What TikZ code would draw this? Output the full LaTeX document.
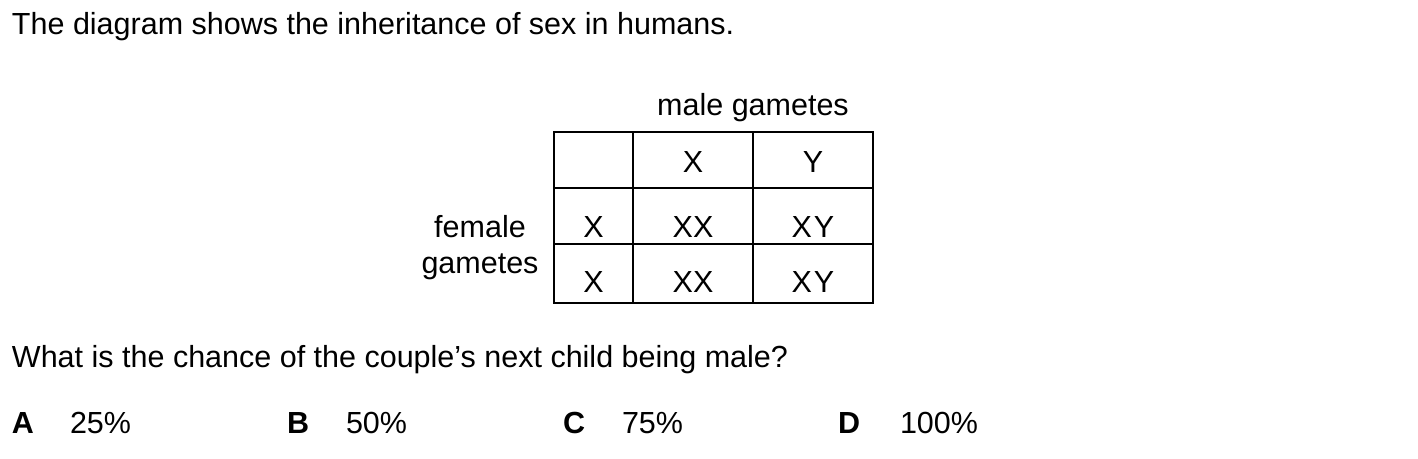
\documentclass[tikz,border=0pt]{standalone}
\usepackage{fontspec}
\setmainfont{Liberation Sans}
\usepackage{tikz}
\tikzset{
	x=1pt, y=-1pt,
	every node/.style={inner sep=0pt, outer sep=0pt},
	txt/.style={anchor=base west},
	cell/.style={anchor=base},
	grid line/.style={line width=2pt}
}

\begin{document}
\begin{tikzpicture}[font=\fontsize{30.5}{36}\selectfont]
\useasboundingbox (0,0) rectangle (1418,458);
\node (title) [txt] at (12,34) {The diagram shows the inheritance of sex in humans.};
\node (male) [cell] at (753,115) {male gametes};
\node (fem) [cell] at (480,237) {female};
\node (fgam) [cell] at (480,273) {gametes};
% table
\coordinate (tl) at (554,132); \coordinate (br) at (873,303);
\draw[grid line] (tl) rectangle (br);
\draw[grid line] (633,132) -- (633,303);
\draw[grid line] (753,132) -- (753,303);
\draw[grid line] (554,188) -- (873,188);
\draw[grid line] (554,244) -- (873,244);
\node (mx) [cell] at (693,172) {X};
\node (my) [cell] at (813,172) {Y};
\node (fx1) [cell] at (593.5,237) {X};
\node (fx2) [cell] at (593.5,292) {X};
\node (xx1) [cell] at (693,237) {XX};
\node (xy1) [cell] at (813,237) {X\kern2pt Y};
\node (xx2) [cell] at (693,292) {XX};
\node (xy2) [cell] at (813,292) {X\kern2pt Y};
% question and answers
\node (quest) [txt] at (12,367) {What is the chance of the couple’s next child being male?};
\node (la) [txt] at (12,433) {\bfseries A}; \node (pa) [txt] at (70,433) {25\%};
\node (lb) [txt] at (287,433) {\bfseries B}; \node (pb) [txt] at (346,433) {50\%};
\node (lc) [txt] at (563,433) {\bfseries C}; \node (pc) [txt] at (622,433) {75\%};
\node (ld) [txt] at (838,433) {\bfseries D}; \node (pd) [txt] at (900,433) {100\%};
\end{tikzpicture}
\end{document}
